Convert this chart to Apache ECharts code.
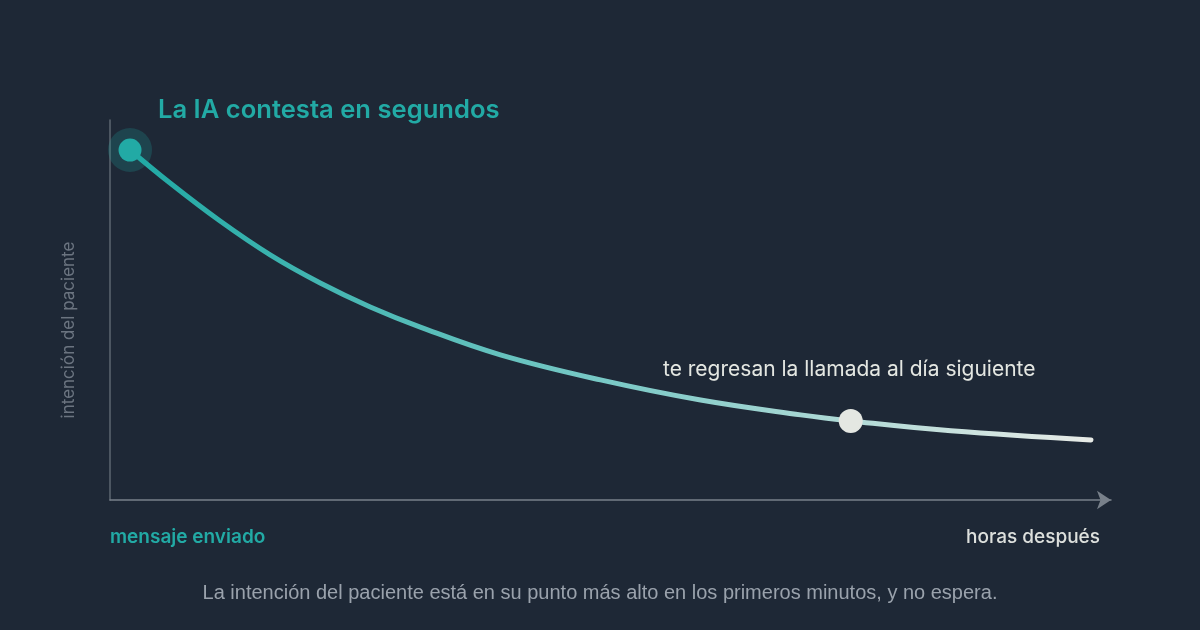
<!DOCTYPE html>
<html>
<head>
<meta charset="utf-8">
<script src="https://cdn.jsdelivr.net/npm/echarts@6/dist/echarts.min.js"></script>
<style>
  html, body { margin: 0; padding: 0; background: #1e2836; }
  #chart { width: 1200px; height: 630px; }
</style>
</head>
<body>
<div id="chart"></div>
<script>
// curve: x = time (0..100), y = patient intent (0..100)
const timeX = [2, 6, 11, 16, 21, 26, 31, 39, 49, 59, 69, 74, 84, 98];
const intentY = [92.1, 83.4, 73.4, 64.5, 57.1, 50.8, 45.5, 38.2, 31.6, 26.3, 22.4, 20.8, 18.2, 15.8];
const startPoint = [2, 92.1];
const callbackPoint = [74, 20.8];

const titleText = 'La IA contesta en segundos';
const callbackText = 'te regresan la llamada al día siguiente';
const xStartLabel = 'mensaje enviado';
const xEndLabel = 'horas después';
const yName = 'intención del paciente';
const caption = 'La intención del paciente está en su punto más alto en los primeros minutos, y no espera.';

const teal = '#22aaa5';
const light = '#e4e7e2';

const chart = echarts.init(document.getElementById('chart'));

const curve = timeX.map((x, i) => [x, intentY[i]]);

var option = {
  backgroundColor: '#1e2836',
  animation: false,
  grid: { left: 110, right: 89, top: 120, bottom: 130 },
  xAxis: {
    type: 'value',
    min: 0,
    max: 100,
    axisLine: {
      show: true,
      symbol: ['none', 'arrow'],
      symbolSize: [14, 14],
      lineStyle: { color: '#78808a', width: 1.5 }
    },
    axisTick: { show: false },
    axisLabel: { show: false },
    splitLine: { show: false }
  },
  yAxis: {
    type: 'value',
    min: 0,
    max: 100,
    axisLine: { show: true, lineStyle: { color: '#5d6670', width: 1.5 } },
    axisTick: { show: false },
    axisLabel: { show: false },
    splitLine: { show: false }
  },
  series: [
    {
      name: 'intención',
      type: 'line',
      smooth: 0.4,
      showSymbol: false,
      data: curve,
      lineStyle: {
        width: 5,
        cap: 'round',
        color: new echarts.graphic.LinearGradient(0, 0, 1, 0, [
          { offset: 0, color: '#1fa9a4' },
          { offset: 0.5, color: '#7ac9c6' },
          { offset: 1, color: '#e8ebe7' }
        ])
      },
      z: 2
    },
    {
      name: 'halo',
      type: 'scatter',
      data: [startPoint],
      symbolSize: 44,
      itemStyle: { color: teal, opacity: 0.22 },
      z: 1
    },
    {
      name: 'inicio',
      type: 'scatter',
      data: [startPoint],
      symbolSize: 23,
      itemStyle: { color: teal, opacity: 1 },
      z: 3
    },
    {
      name: 'llamada',
      type: 'scatter',
      data: [callbackPoint],
      symbolSize: 24,
      itemStyle: { color: light, opacity: 1 },
      z: 3
    }
  ],
  graphic: [
    {
      type: 'text', left: 158, top: 97,
      style: { text: titleText, fill: teal, font: '600 25.6px Inter' }
    },
    {
      type: 'text', left: 663, top: 359,
      style: { text: callbackText, fill: light, font: '21px Inter' }
    },
    {
      type: 'text', x: 69, y: 330, rotation: Math.PI / 2,
      style: {
        text: yName, fill: '#6b7480', font: '17px Inter',
        align: 'center', verticalAlign: 'middle'
      }
    },
    {
      type: 'text', left: 110, top: 528,
      style: { text: xStartLabel, fill: teal, font: '600 19px Inter' }
    },
    {
      type: 'text', right: 100, top: 528,
      style: { text: xEndLabel, fill: '#dde0dd', font: '500 19px Inter' }
    },
    {
      type: 'text', left: 'center', top: 583,
      style: { text: caption, fill: '#9aa2ac', font: '20px "Liberation Sans"' }
    }
  ]
};

chart.setOption(option);
</script>
</body>
</html>
